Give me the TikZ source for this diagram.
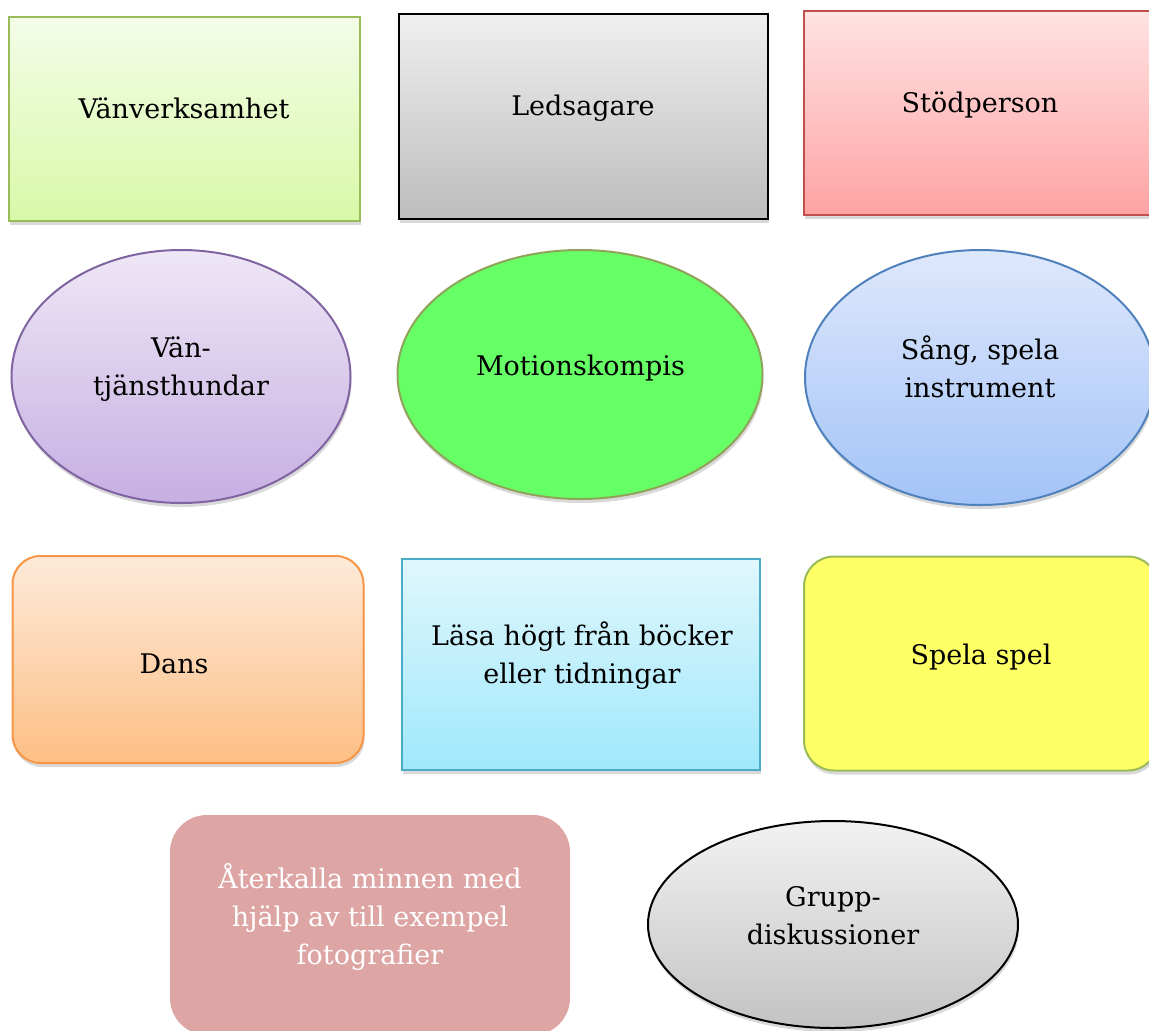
\documentclass[tikz,border=0pt]{standalone}
\usepackage{fontspec}
\setmainfont{DejaVu Serif}
\usepackage{tikz}
\usetikzlibrary{shapes.geometric, shadows, positioning}
\definecolor{vengreen}{HTML}{9BBB59}
\definecolor{ventop}{HTML}{F4FCE8}
\definecolor{venbot}{HTML}{D8F9A8}
\definecolor{ledtop}{HTML}{EFEFEF}
\definecolor{ledbot}{HTML}{BDBDBD}
\definecolor{stored}{HTML}{C0504D}
\definecolor{stotop}{HTML}{FFE3E3}
\definecolor{stobot}{HTML}{FFA3A3}
\definecolor{vthpurple}{HTML}{8064A2}
\definecolor{vthtop}{HTML}{EEE7F6}
\definecolor{vthbot}{HTML}{C6AFE2}
\definecolor{motline}{HTML}{8FA35A}
\definecolor{motfill}{HTML}{66FF66}
\definecolor{sngblue}{HTML}{4F81BD}
\definecolor{sngtop}{HTML}{DEE8FC}
\definecolor{sngbot}{HTML}{A3C3F7}
\definecolor{dnsorange}{HTML}{F79646}
\definecolor{dnstop}{HTML}{FDEADA}
\definecolor{dnsbot}{HTML}{FDBF85}
\definecolor{lasblue}{HTML}{4BACC6}
\definecolor{lastop}{HTML}{E0F7FD}
\definecolor{lasbot}{HTML}{A0E8FB}
\definecolor{splfill}{HTML}{FFFF66}
\definecolor{atepink}{HTML}{DEA5A5}
\definecolor{grptop}{HTML}{F2F2F2}
\definecolor{grpbot}{HTML}{C3C3C3}

\begin{document}
\begin{tikzpicture}[x=1pt, y=-1pt,
    shade/.style={drop shadow={shadow xshift=1pt, shadow yshift=-4pt, opacity=.3}},
    sq/.style={rectangle, inner sep=0pt, outer sep=0pt, line width=2pt, shade},
    rnd/.style={rectangle, rounded corners=#1, inner sep=0pt, outer sep=0pt, line width=2pt},
    ell/.style={ellipse, inner sep=0pt, outer sep=0pt, line width=2pt, shade},
    grad/.style 2 args={top color=#1, bottom color=#2},
    txt/.style={font=\fontsize{27}{38}\selectfont, align=center, inner sep=0pt}
]
\useasboundingbox (0,0) rectangle (1149,1031);

% Top row
\node[sq, draw=vengreen, grad={ventop}{venbot}, minimum width=351pt, minimum height=204pt] (ven) at (184,118.5) {};
\node[sq, draw=black, grad={ledtop}{ledbot}, minimum width=369pt, minimum height=205pt] (led) at (583,116.5) {};
\node[sq, draw=stored, grad={stotop}{stobot}, minimum width=352pt, minimum height=204pt] (sto) at (980,112.5) {};

\node[txt, anchor=base] (venT) at (184,118) {Vänverksamhet};
\node[txt, anchor=base] (ledT) at (583,115.5) {Ledsagare};
\node[txt, anchor=base] (stoT) at (980,112) {Stödperson};

% Ellipses
\node[ell, draw=vthpurple, grad={vthtop}{vthbot}, minimum width=339pt, minimum height=253pt] (vth) at (181,376.5) {};
\node[ell, draw=motline, fill=motfill, minimum width=365pt, minimum height=249pt] (mot) at (580,374.5) {};
\node[ell, draw=sngblue, grad={sngtop}{sngbot}, minimum width=350pt, minimum height=255pt] (sng) at (980,377.5) {};

\node[txt] (vthT) at (181,369) {Vän-\\tjänsthundar};
\node[txt, anchor=base] (motT) at (580.5,375) {Motionskompis};
\node[txt] (sngT) at (980,367) {Sång, spela\\instrument};

% Third row
\node[rnd=28pt, shade, draw=dnsorange, grad={dnstop}{dnsbot}, minimum width=351pt, minimum height=207pt] (dns) at (188,659.5) {};
\node[sq, draw=lasblue, grad={lastop}{lasbot}, minimum width=358pt, minimum height=211pt] (las) at (581,664.5) {};
\node[rnd=30pt, shade, draw=vengreen, fill=splfill, minimum width=354pt, minimum height=214pt] (spl) at (981,663.5) {};

\node[txt, anchor=base] (dnsT) at (174,673) {Dans};
\node[txt] (lasT) at (582,656) {Läsa högt från böcker\\eller tidningar};
\node[txt, anchor=base] (splT) at (981,664) {Spela spel};

% Bottom row
\node[rnd=37pt, fill=atepink, minimum width=400pt, minimum height=220pt] (ate) at (370,925) {};
\node[ell, draw=black, grad={grptop}{grpbot}, minimum width=370pt, minimum height=207pt] (grp) at (833,924.5) {};

\node[txt, text=white] (ateT) at (370,917) {Återkalla minnen med\\hjälp av till exempel\\fotografier};
\node[txt] (grpT) at (833,915.5) {Grupp-\\diskussioner};

\end{tikzpicture}
\end{document}
